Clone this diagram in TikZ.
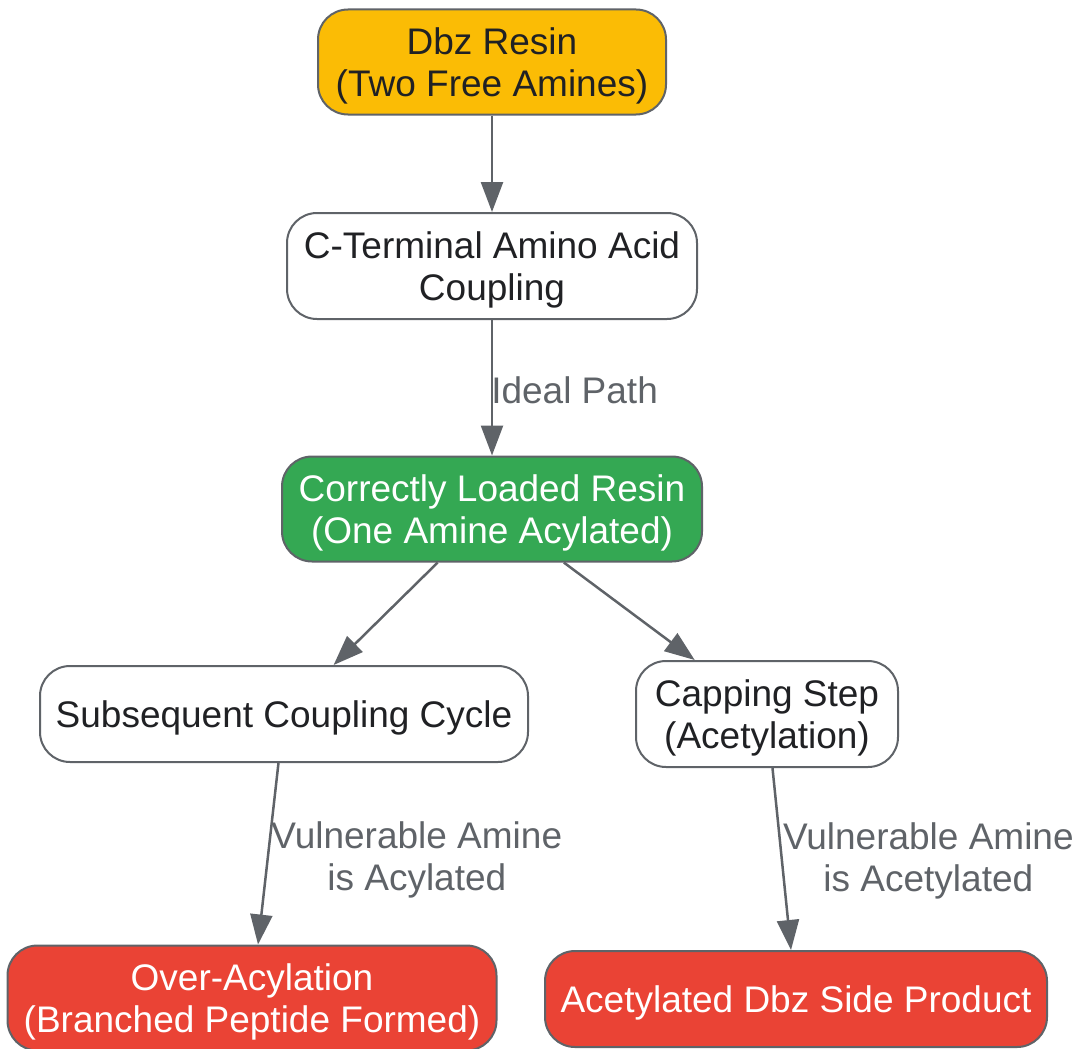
\documentclass[tikz,border=0pt]{standalone}
\usepackage{fontspec}
\setmainfont{Liberation Sans}
\usetikzlibrary{arrows.meta}
\definecolor{edgegray}{HTML}{5F6368}
\definecolor{textdark}{HTML}{202124}
\definecolor{resinorange}{HTML}{FBBC05}
\definecolor{goodgreen}{HTML}{34A853}
\definecolor{badred}{HTML}{EA4335}

\begin{document}
\begin{tikzpicture}[x=1pt,y=-1pt]
    \tikzstyle{box}=[draw=edgegray,line width=2pt,rounded corners=30pt,align=center,inner sep=0pt,text depth=-7pt,text=textdark,font=\fontsize{37}{42}\selectfont];
    \tikzstyle{start}=[box,fill=resinorange]; \tikzstyle{stage}=[box,fill=white];
    \tikzstyle{good}=[box,fill=goodgreen,text=white]; \tikzstyle{bad}=[box,fill=badred,text=white];
    \tikzstyle{flow}=[draw=edgegray,line width=2.5pt,-{Triangle[length=30pt,width=22pt]}];
    \tikzstyle{lbl}=[anchor=west,inner sep=2pt,align=center,text=edgegray,font=\fontsize{37}{42}\selectfont];
    \useasboundingbox (0,0) rectangle (1076,1049);

    \node (resin) [start,minimum width=348pt,minimum height=105pt] at (492,62) {Dbz Resin\\(Two Free Amines)};
    \node (cterm) [stage,minimum width=410pt,minimum height=106pt] at (492,266) {C-Terminal Amino Acid\\Coupling};

    \node (loaded) [good,minimum width=420pt,minimum height=105pt] at (492,509) {Correctly Loaded Resin\\(One Amine Acylated)};

    \node (cycle) [stage,minimum width=488pt,minimum height=96pt] at (284,714) {Subsequent Coupling Cycle};
    \node (cap) [stage,minimum width=262pt,minimum height=106pt] at (767,714) {Capping Step\\(Acetylation)};

    \node (over) [bad,minimum width=489pt,minimum height=105pt] at (252,998) {Over-Acylation\\(Branched Peptide Formed)};
    \node (side) [bad,minimum width=502pt,minimum height=96pt] at (796,999) {Acetylated Dbz Side Product};

    \path (resin) edge [flow] (cterm)
    (cterm) edge [flow] node[lbl,xshift=-4pt,yshift=-3pt] {Ideal Path} (loaded)
    (loaded) edge [flow] (cycle) edge [flow] (cap)
    (cycle) edge [flow] node[lbl,yshift=-6pt] {Vulnerable Amine\\is Acylated} (over)
    (cap) edge [flow] node[lbl,xshift=-2pt,yshift=-2pt] {Vulnerable Amine\\is Acetylated} (side);
  \end{tikzpicture}
\end{document}
